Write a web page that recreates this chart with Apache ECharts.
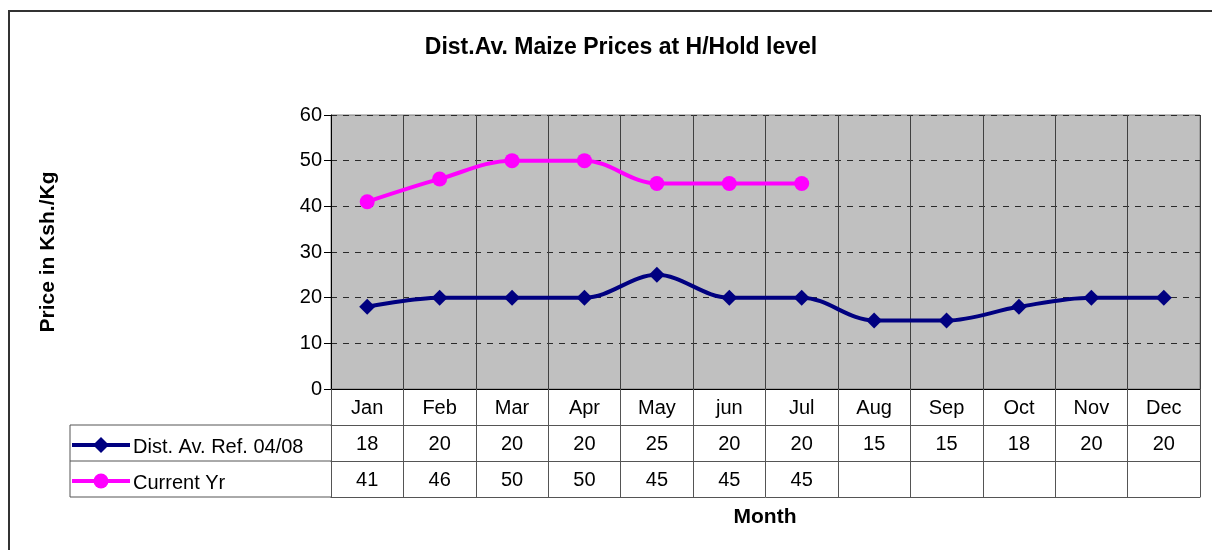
<!DOCTYPE html>
<html>
<head>
<meta charset="utf-8">
<script src="https://cdn.jsdelivr.net/npm/echarts@6.0.0/dist/echarts.min.js"></script>
<style>
html,body{margin:0;padding:0;background:#fff;}
#chart{width:1212px;height:550px;}
</style>
</head>
<body>
<div id="chart"></div>
<script>
const months = ['Jan','Feb','Mar','Apr','May','jun','Jul','Aug','Sep','Oct','Nov','Dec'];
const refValues = [18,20,20,20,25,20,20,15,15,18,20,20];
const currentValues = [41,46,50,50,45,45,45,null,null,null,null,null];
const yTicks = [0,10,20,30,40,50,60];
const seriesNames = ['Dist. Av. Ref. 04/08','Current Yr'];
const seriesColors = ['#000080','#FF00FF'];

const FONT = 'Liberation Sans, Arial, sans-serif';
const LABEL_SIZE = 20;
const tableLine = {color:'#555', width:1};
const chart = echarts.init(document.getElementById('chart'), null, {renderer:'canvas'});

function tableAxis(offset, values) {
  return {
    type:'category', data: months, position:'bottom', offset: offset, gridIndex:0,
    boundaryGap:true,
    axisLine:{show:true, lineStyle:tableLine},
    axisTick:{show: values !== null, interval:0, length:36, lineStyle:tableLine},
    axisLabel:{show: values !== null, interval:0, margin:9, fontSize:LABEL_SIZE, color:'#000', fontFamily:FONT,
      formatter:(v, i) => values && values[i] != null ? String(values[i]) : ''},
    splitLine:{show:false}
  };
}

// legend drawn as graphic rows of the data table
const legendGraphics = [];
seriesNames.forEach((name, i) => {
  const cy = 445 + i * 36;
  legendGraphics.push({type:'line', shape:{x1:72, y1:cy, x2:130, y2:cy}, style:{stroke:seriesColors[i], lineWidth:4}, z:10});
  if (i === 0) {
    legendGraphics.push({type:'polygon', shape:{points:[[101,cy-8],[109,cy],[101,cy+8],[93,cy]]}, style:{fill:seriesColors[i]}, z:11});
  } else {
    legendGraphics.push({type:'circle', shape:{cx:101, cy:cy, r:7.5}, style:{fill:seriesColors[i]}, z:11});
  }
  legendGraphics.push({type:'text', x:133, y:cy + 2, style:{text:name, font:LABEL_SIZE + 'px ' + FONT, fill:'#000', verticalAlign:'middle'}, z:11});
});

chart.setOption({
  animation:false,
  backgroundColor:'#fff',
  title:{
    text:'Dist.Av. Maize Prices at H/Hold level',
    left:616, textAlign:'center', top:31,
    textStyle:{fontFamily:FONT, fontSize:23, fontWeight:'bold', color:'#000'}
  },
  grid:{left:331, right:12, top:115, bottom:161, show:true, backgroundColor:'#C0C0C0', borderColor:'#808080', borderWidth:1},
  xAxis:[
    {
      type:'category', data: months, position:'bottom', gridIndex:0, boundaryGap:true,
      axisLine:{show:true, lineStyle:{color:'#000', width:1}},
      axisTick:{show:true, interval:0, length:36, lineStyle:tableLine},
      axisLabel:{interval:0, margin:9, fontSize:LABEL_SIZE, color:'#000', fontFamily:FONT},
      splitLine:{show:true, interval:0, lineStyle:{color:'#404040', width:1}}
    },
    tableAxis(36, refValues),
    tableAxis(72, currentValues),
    tableAxis(108, null)
  ],
  yAxis:{
    type:'value', min:yTicks[0], max:yTicks[yTicks.length-1], interval:10,
    name:'Price in Ksh./Kg', nameLocation:'middle', nameRotate:90, nameGap:272,
    nameTextStyle:{fontFamily:FONT, fontSize:21, fontWeight:'bold', color:'#000'},
    axisLine:{show:true, lineStyle:{color:'#000', width:1}},
    axisTick:{show:true, length:7, lineStyle:{color:'#000'}},
    axisLabel:{margin:9, fontSize:LABEL_SIZE, color:'#000', fontFamily:FONT},
    splitLine:{show:true, lineStyle:{color:'#2a2a2a', width:1, type:[6,6]}}
  },
  series:[
    {
      name:seriesNames[0], type:'line', data:refValues, smooth:0.35,
      symbol:'diamond', symbolSize:16,
      itemStyle:{color:seriesColors[0]}, lineStyle:{color:seriesColors[0], width:4}, z:3
    },
    {
      name:seriesNames[1], type:'line', data:currentValues, smooth:0.35, connectNulls:false,
      symbol:'circle', symbolSize:15,
      itemStyle:{color:seriesColors[1]}, lineStyle:{color:seriesColors[1], width:4}, z:4
    }
  ],
  graphic:[
    {type:'rect', shape:{x:9, y:11, width:1260, height:600}, style:{fill:null, stroke:'#333', lineWidth:2}, silent:true},
    {type:'line', shape:{x1:70, y1:425, x2:331, y2:425}, style:{stroke:'#555', lineWidth:1}},
    {type:'line', shape:{x1:70, y1:461, x2:331, y2:461}, style:{stroke:'#555', lineWidth:1}},
    {type:'line', shape:{x1:70, y1:497, x2:331, y2:497}, style:{stroke:'#555', lineWidth:1}},
    {type:'line', shape:{x1:70, y1:425, x2:70, y2:497}, style:{stroke:'#555', lineWidth:1}},
    {type:'text', x:765, y:517, style:{text:'Month', font:'bold 21px ' + FONT, fill:'#000', align:'center', verticalAlign:'middle'}}
  ].concat(legendGraphics)
});
</script>
</body>
</html>
